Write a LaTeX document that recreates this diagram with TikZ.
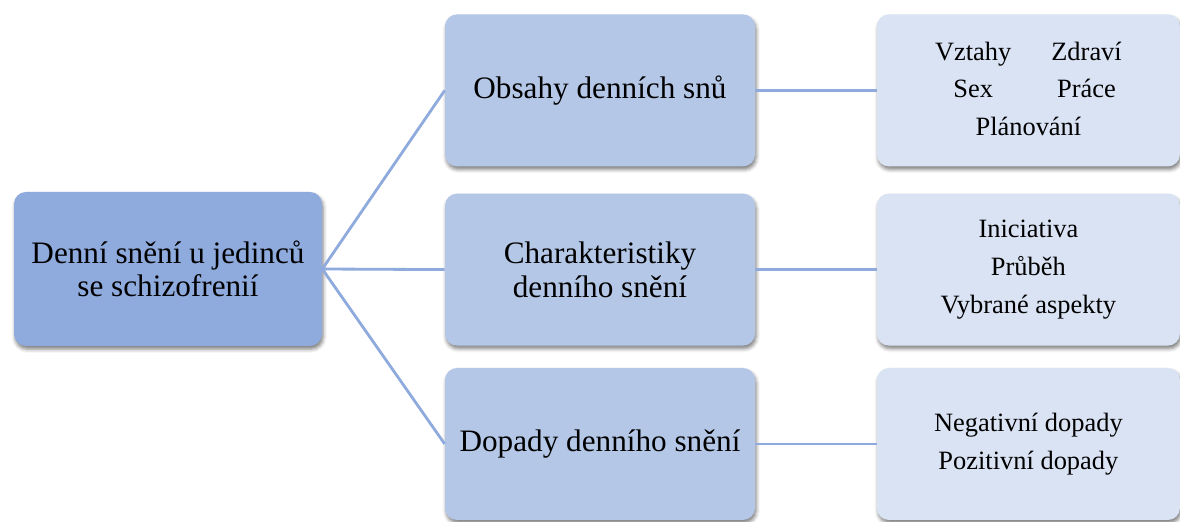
\documentclass[tikz,border=0pt]{standalone}
\usepackage{fontspec}
\setmainfont{Liberation Serif}
\usetikzlibrary{positioning,shadows.blur}
\definecolor{rootblue}{HTML}{8FAADC}
\definecolor{midblue}{HTML}{B4C7E7}
\definecolor{paleblue}{HTML}{DAE3F3}

\begin{document}
\begin{tikzpicture}[
  box/.style={rectangle, rounded corners=0.3cm, align=center, inner sep=2pt,
    blur shadow={shadow xshift=0.03cm, shadow yshift=-0.08cm, shadow blur radius=0.09cm, shadow opacity=50}},
  root/.style={box, fill=rootblue, minimum width=7.7cm, minimum height=3.85cm, font=\fontsize{22.2}{23.5}\selectfont},
  topic/.style={box, fill=midblue, minimum width=7.75cm, minimum height=3.8cm, font=\fontsize{22.2}{24.5}\selectfont},
  detail/.style={box, fill=paleblue, minimum width=7.575cm, minimum height=3.8cm, font=\fontsize{18.8}{27}\selectfont},
  link/.style={draw=rootblue, line width=2pt},
]
\useasboundingbox (0,0) rectangle (29.5,13.05);

% === Root ===
\node[root] (root) at (4.2, 6.325) {Denní snění u jedinců\\se schizofrenií};

% === Topics ===
\node[topic] (obsahy) at (15.0, 10.79) {Obsahy denních snů};
\node[topic] (charakt) at (15.0, 6.31) {Charakteristiky\\denního snění};
\node[topic] (dopady) at (15.0, 1.95) {Dopady denního snění};

% === Details ===
\node[detail] (obsahyd) at (25.71, 10.79)
  {\begin{tabular}{@{}c@{\hspace{1cm}}c@{}}Vztahy & Zdraví\\Sex & Práce\\\multicolumn{2}{c}{Plánování}\end{tabular}};
\node[detail] (charaktd) at (25.71, 6.31) {Iniciativa\\Průběh\\Vybrané aspekty};
\node[detail] (dopadyd) at (25.71, 1.95) {Negativní dopady\\Pozitivní dopady};

% === Links ===
\foreach \t in {obsahy, charakt, dopady} {
  \draw[link] (root.east) -- (\t.west);
  \draw[link] (\t.east) -- (\t d.west);
}

\end{tikzpicture}
\end{document}
